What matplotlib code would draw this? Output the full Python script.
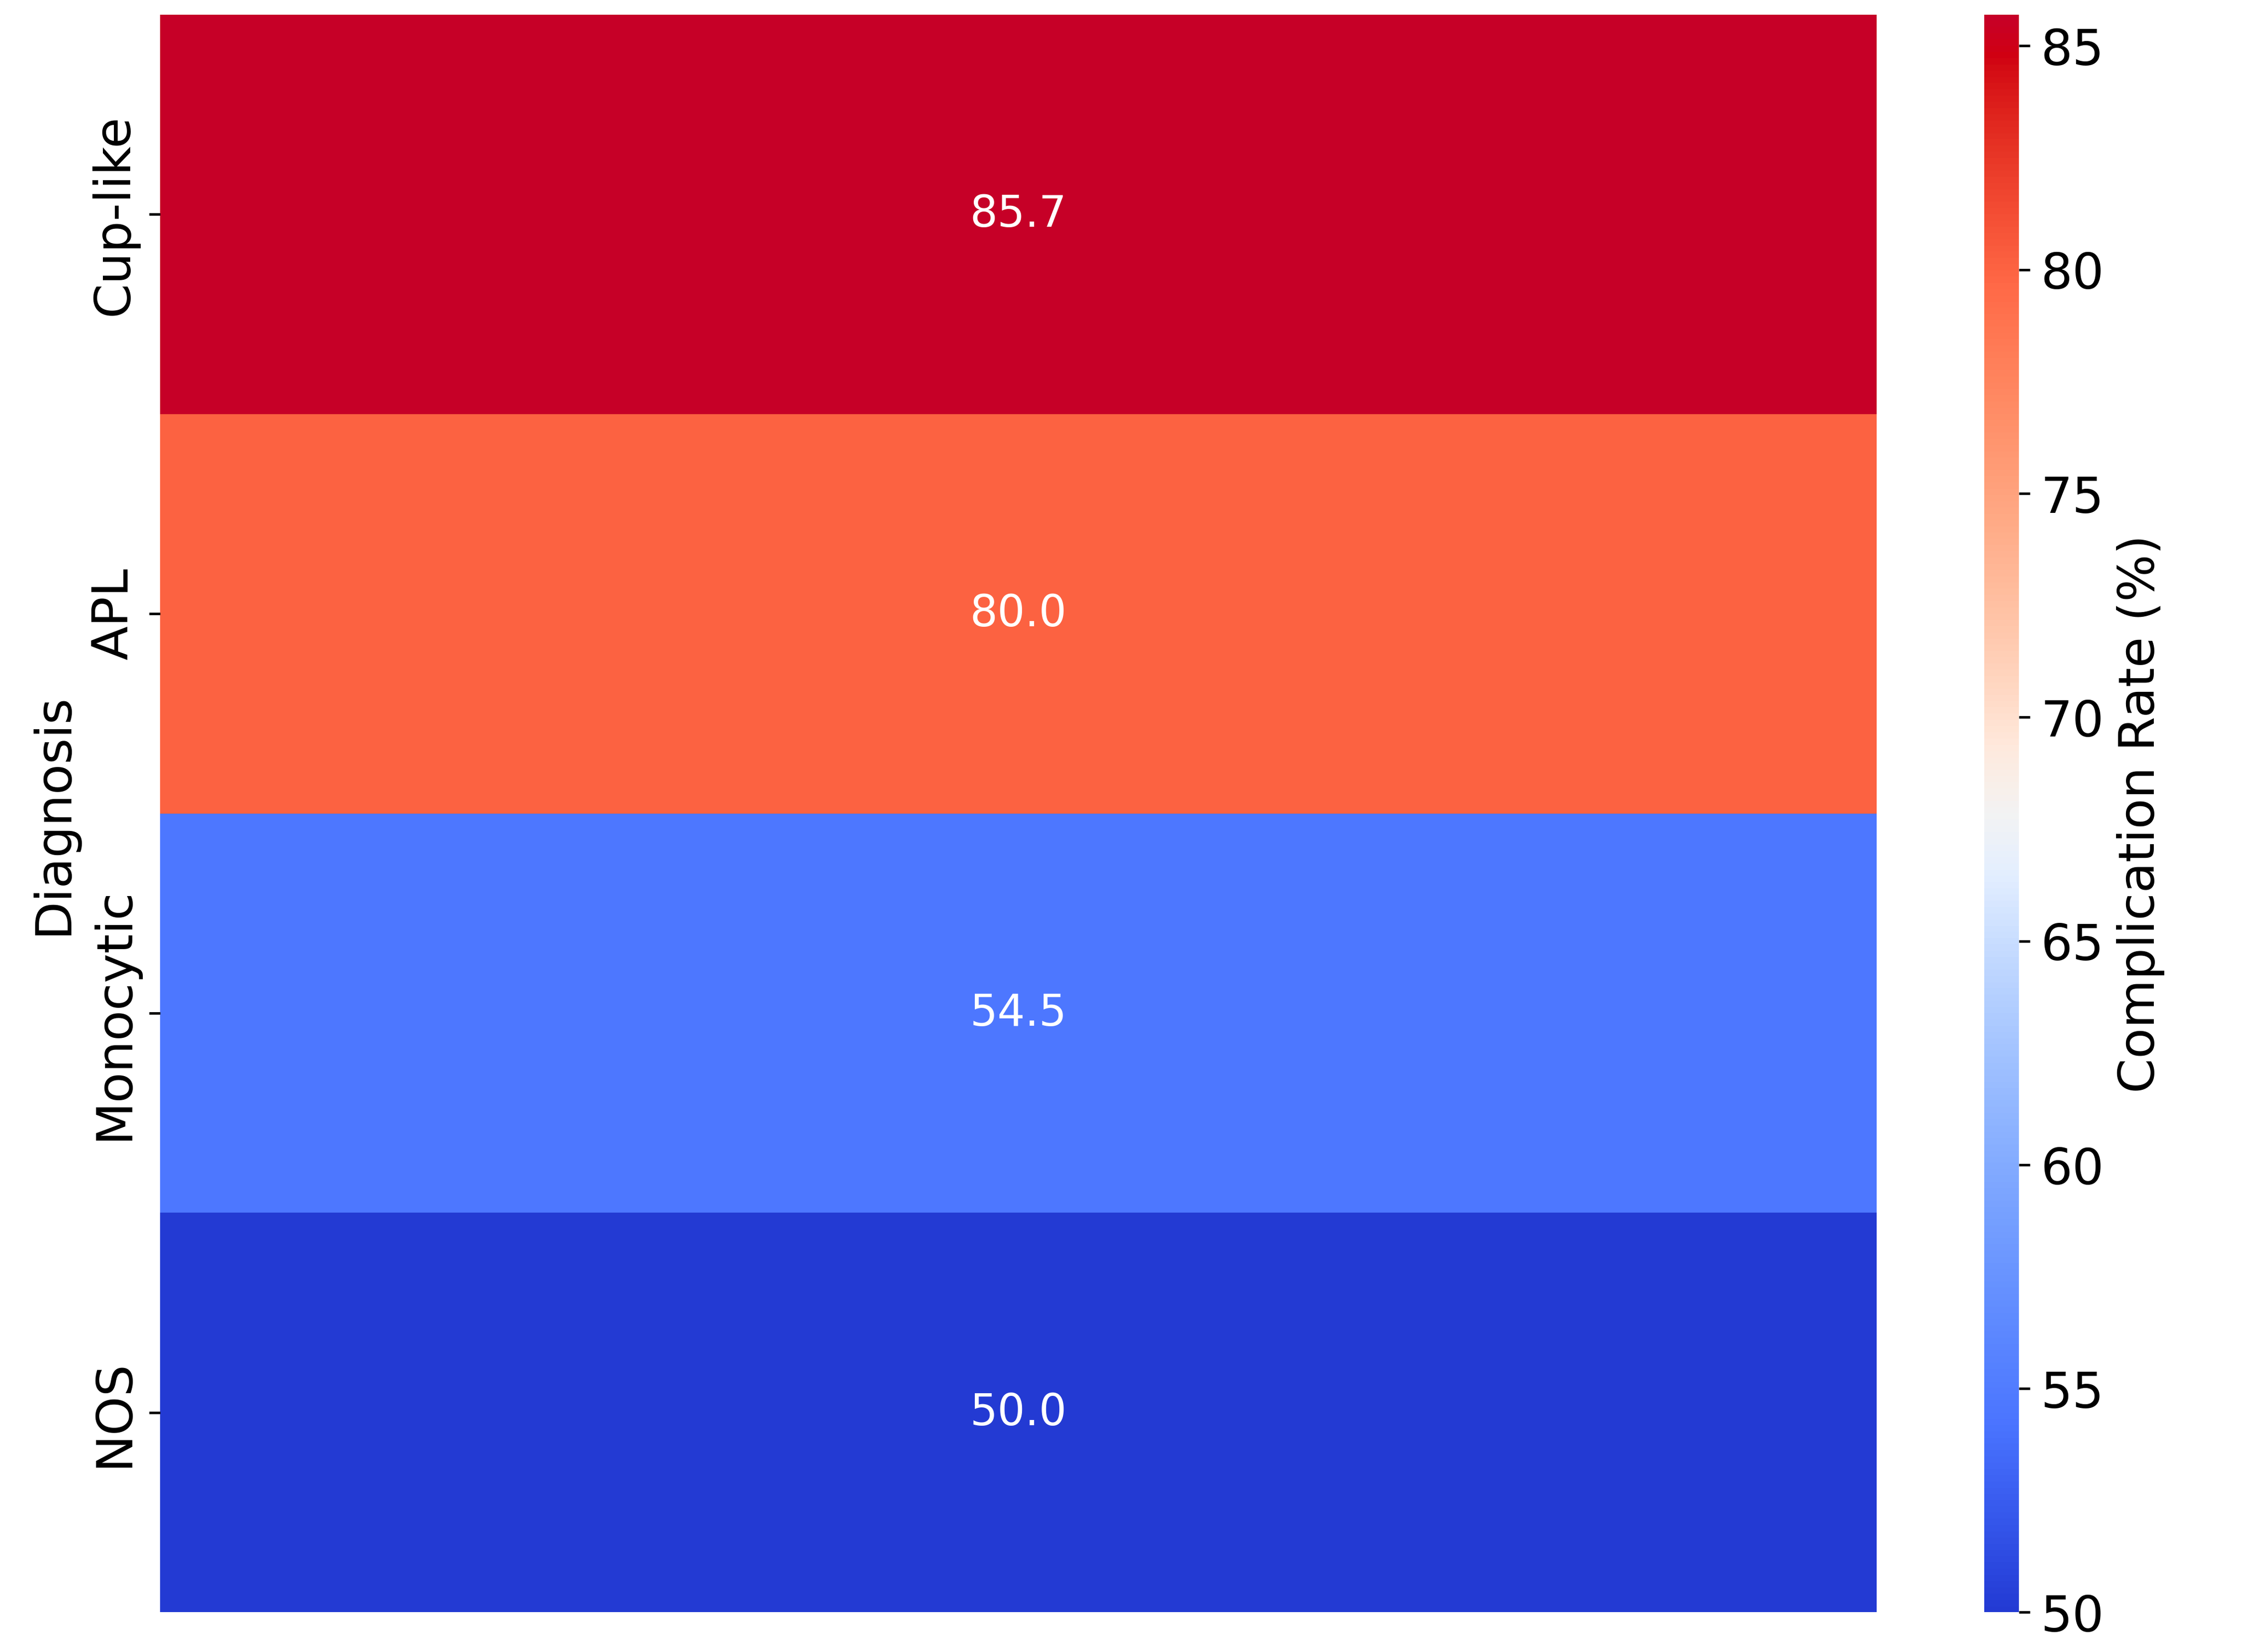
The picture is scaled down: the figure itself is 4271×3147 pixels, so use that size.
import matplotlib
matplotlib.use('Agg')
import matplotlib.pyplot as plt
import matplotlib.colors as mcolors
import seaborn as sns
import numpy as np
import pandas as pd

diagnosis = ['Cup-like', 'APL', 'Monocytic', 'NOS']
rate = [85.7, 80.0, 54.5, 50.0]

df = pd.DataFrame({'Complication Rate (%)': rate}, index=diagnosis)

# coolwarm, a bit more saturated/brighter like the reference
base = plt.get_cmap('coolwarm')(np.linspace(0, 1, 256))[:, :3]
hsv = mcolors.rgb_to_hsv(base)
hsv[:, 1] = np.clip(hsv[:, 1] * 1.2, 0, 1)
hsv[:, 2] = np.clip(hsv[:, 2] * 1.1, 0, 1)
cmap = mcolors.ListedColormap(mcolors.hsv_to_rgb(hsv))

fig = plt.figure(figsize=(10, 7.37), dpi=427.1)
ax = fig.add_axes([0.0714, 0.024, 0.7656, 0.967])
cax = fig.add_axes([0.885, 0.024, 0.0155, 0.967])

sns.heatmap(df, ax=ax, cbar_ax=cax, cmap=cmap, annot=True, fmt='.1f',
            annot_kws={'fontsize': 14}, xticklabels=False,
            cbar_kws={'label': 'Complication Rate (%)'})
ax.set_ylabel('Diagnosis', fontsize=16)
ax.tick_params(axis='y', labelsize=16)
cax.tick_params(labelsize=16)
cax.set_ylabel('Complication Rate (%)', fontsize=16)
cax.set_yticks([50, 55, 60, 65, 70, 75, 80, 85])

fig.savefig('out.png', dpi=427.1)
